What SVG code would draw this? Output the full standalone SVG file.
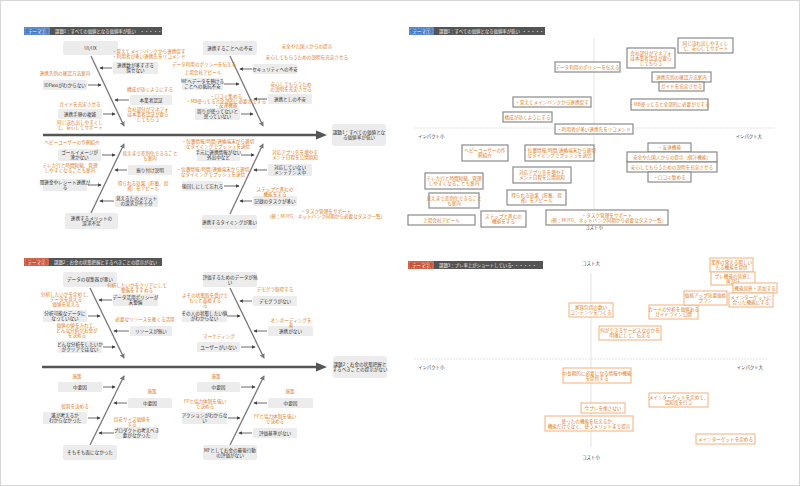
<svg xmlns="http://www.w3.org/2000/svg" width="800" height="486" viewBox="0 0 800 486">
<defs>
<style>
text{font-family:"Noto Sans CJK JP","Noto Sans",sans-serif;font-size:4.6px}
.d{fill:#333;text-anchor:middle}
.o{fill:#e07b22;text-anchor:middle}
.ol{fill:#e07b22}
.gb{fill:#ececec}
.mb{fill:#fff;stroke:#8a8a8a;stroke-width:1.2}
.ob{fill:#fff;stroke:#f2b07a;stroke-width:1}
.mt{fill:#e07b22;text-anchor:middle}
.bone{stroke:#777;stroke-width:1.3;fill:none;marker-end:url(#bh)}
.ar{stroke:#444;stroke-width:0.8;fill:none;marker-end:url(#ah)}
.spine{stroke:#555;stroke-width:2.6}
.ax{stroke:#dcdcdc;stroke-width:0.8}
.axl{fill:#333;font-size:4.4px}
.bar{fill:#545454}
.bt{fill:#eee;font-size:4.4px}
.tg{fill:#fff;font-size:4.4px;text-anchor:middle}
.tb{fill:none;stroke:#fff;stroke-width:0.4;stroke-dasharray:0.8 0.8}
</style>
<marker id="ah" viewBox="0 0 6 6" refX="5" refY="3" markerWidth="4" markerHeight="4" markerUnits="userSpaceOnUse" orient="auto"><path d="M0,0L6,3L0,6z" fill="#444"/></marker>
<marker id="bh" viewBox="0 0 6 6" refX="5" refY="3" markerWidth="5" markerHeight="5" markerUnits="userSpaceOnUse" orient="auto"><path d="M0,0L6,3L0,6z" fill="#777"/></marker>
</defs>
<rect x="0.5" y="0.5" width="799" height="485" fill="#fff" stroke="#d6d6d6"/>

<!-- ================= PANEL 1 ================= -->
<g id="p1-header">
<rect x="24" y="27" width="26" height="8" fill="#4a7ec4"/><rect x="25" y="28" width="24" height="6" class="tb"/>
<text x="37" y="32.6" class="tg">テーマ①</text>
<rect x="50" y="27" width="112" height="8" class="bar"/>
<text x="55" y="32.6" class="bt">課題1：すべての価値となる価値率が低い</text>
<text x="140" y="32.6" class="bt">・・・・・・</text>
</g>
<g id="p1-connectors">
<line x1="43" y1="135" x2="318" y2="135" class="spine"/>
<polygon points="316,130.5 327,135 316,139.5" fill="#555"/>
<line x1="91" y1="56" x2="124" y2="126" class="bone"/>
<line x1="91" y1="213" x2="124" y2="144" class="bone"/>
<line x1="230" y1="56" x2="263" y2="126" class="bone"/>
<line x1="230" y1="214" x2="263" y2="144" class="bone"/>
<line x1="112" y1="68" x2="100" y2="68" class="ar"/>
<line x1="88" y1="85" x2="101" y2="85" class="ar"/>
<line x1="129" y1="100" x2="115" y2="100" class="ar"/>
<line x1="103" y1="114" x2="115" y2="114" class="ar"/>
<line x1="252" y1="69" x2="240" y2="69" class="ar"/>
<line x1="224" y1="84" x2="239" y2="84" class="ar"/>
<line x1="267" y1="99" x2="254" y2="99" class="ar"/>
<line x1="241" y1="114" x2="253" y2="114" class="ar"/>
<line x1="102" y1="155" x2="115" y2="155" class="ar"/>
<line x1="127" y1="170" x2="115" y2="170" class="ar"/>
<line x1="88" y1="185" x2="101" y2="185" class="ar"/>
<line x1="114" y1="201" x2="100" y2="201" class="ar"/>
<line x1="241" y1="155" x2="254" y2="155" class="ar"/>
<line x1="267" y1="170" x2="254" y2="170" class="ar"/>
<line x1="224" y1="186" x2="239" y2="186" class="ar"/>
<line x1="252" y1="201" x2="240" y2="201" class="ar"/>
</g>
<g id="p1-effect"><rect x="332" y="124" width="54" height="22" rx="3" class="gb"/><text class="d"><tspan x="359" y="134">課題1：すべての価値とな</tspan><tspan x="359" y="139.2">る価値率が低い</tspan></text></g>
<g id="p1-uiux"><rect x="63" y="41" width="55" height="14" rx="2" class="gb"/><text x="90.5" y="49.6" class="d">UI/UX</text></g>
<g id="p1-anxiety"><rect x="203" y="41" width="54" height="14" rx="2" class="gb"/><text x="230" y="49.6" class="d">連携することへの不安</text></g>
<g id="p1-merit"><rect x="65" y="213" width="53" height="16" rx="2" class="gb"/><text class="d"><tspan x="91.5" y="220">連携するメリットの</tspan><tspan x="91.5" y="225.2">訴求不足</tspan></text></g>
<g id="p1-timing"><rect x="202" y="215" width="55" height="14" rx="2" class="gb"/><text x="229.5" y="223.6" class="d">連携するタイミングが悪い</text></g>
<g id="p1-c1"><rect x="113" y="62" width="45" height="12" rx="1.5" class="gb"/><text class="d"><tspan x="135.5" y="67">連携数が多すぎる</tspan><tspan x="135.5" y="72">探せない</tspan></text></g>
<g id="p1-c2"><rect x="43" y="80" width="44" height="10" rx="1.5" class="gb"/><text x="65" y="86.6" class="d">IDPassがわからない</text></g>
<g id="p1-c3"><rect x="130" y="95" width="42" height="10" rx="1.5" class="gb"/><text x="151" y="101.6" class="d">本業者認証</text></g>
<g id="p1-c4"><rect x="58" y="109" width="44" height="10" rx="1.5" class="gb"/><text x="80" y="115.6" class="d">連携手順の複雑</text></g>
<g id="p1-c5"><rect x="253" y="64" width="44" height="10" rx="1.5" class="gb"/><text x="275" y="70.6" class="d">セキュリティへの不安</text></g>
<g id="p1-c6"><rect x="182" y="78" width="41" height="12" rx="1.5" class="gb"/><text class="d"><tspan x="202.5" y="83">MFへデータを預ける</tspan><tspan x="202.5" y="88">ことへの抵抗不安</tspan></text></g>
<g id="p1-c7"><rect x="268" y="94" width="44" height="10" rx="1.5" class="gb"/><text x="290" y="100.6" class="d">連携としの不安</text></g>
<g id="p1-c8"><rect x="195" y="108" width="45" height="12" rx="1.5" class="gb"/><text class="d"><tspan x="217.5" y="113">周りが使ってないと</tspan><tspan x="217.5" y="118">思っていない</tspan></text></g>
<g id="p1-c9"><rect x="58" y="149" width="43" height="12" rx="1.5" class="gb"/><text class="d"><tspan x="79.5" y="154">ゴールイメージが</tspan><tspan x="79.5" y="159">湧かない</tspan></text></g>
<g id="p1-c10"><rect x="128" y="165" width="44" height="10" rx="1.5" class="gb"/><text x="150" y="171.6" class="d">振り付け説明</text></g>
<g id="p1-c11"><rect x="43" y="179" width="44" height="12" rx="1.5" class="gb"/><text class="d"><tspan x="65" y="184">関連金やレシート連携が</tspan><tspan x="65" y="189">る</tspan></text></g>
<g id="p1-c12"><rect x="115" y="195" width="43" height="12" rx="1.5" class="gb"/><text class="d"><tspan x="136.5" y="200">見えるたのメリット</tspan><tspan x="136.5" y="205">の訴求が不十分</tspan></text></g>
<g id="p1-c13"><rect x="197" y="149" width="43" height="12" rx="1.5" class="gb"/><text class="d"><tspan x="218.5" y="154">手元に連携情報がない</tspan><tspan x="218.5" y="159">外出中など</tspan></text></g>
<g id="p1-c14"><rect x="268" y="164" width="44" height="12" rx="1.5" class="gb"/><text class="d"><tspan x="290" y="169">対応していない</tspan><tspan x="290" y="174">メンテナンス中</tspan></text></g>
<g id="p1-c15"><rect x="182" y="181" width="41" height="10" rx="1.5" class="gb"/><text x="202.5" y="187.6" class="d">後回しにして忘れる</text></g>
<g id="p1-c16"><rect x="253" y="196" width="44" height="10" rx="1.5" class="gb"/><text x="275" y="202.6" class="d">記録のタスクが多い</text></g>
<g id="p1-notes">
<text class="ol"><tspan x="112" y="53">・覚えてメインバンクから連携促す</tspan><tspan x="112" y="58">・利用者が多い連携先をリコメンド</tspan></text>
<text x="65" y="74.5" class="o">連携先別の確認方法案内</text>
<text x="150" y="90.5" class="o">構成が効くようにする</text>
<text x="80" y="105.5" class="o">ガイドを充実させる</text>
<text class="o"><tspan x="148" y="111">会社部分がマネフォ</tspan><tspan x="148" y="116">は本業者認証が要ら</tspan><tspan x="148" y="121">してもらう</tspan></text>
<text class="o"><tspan x="80" y="123.5">同じ流れ出しやすくし</tspan><tspan x="80" y="128.5">て、安心してサポート</tspan></text>
<text x="204" y="66" class="o">データ利用のポリシーを伝える</text>
<text x="203" y="74" class="o">上場会社アピール</text>
<text class="o"><tspan x="226" y="98">・口コミ集める</tspan><tspan x="226" y="102.5">・MB使ってると全部的に必要がでする</tspan><tspan x="226" y="107">・友達機能</tspan></text>
<text x="307" y="48" class="o">安全やた国人からの提示</text>
<text x="307" y="59" class="o">安心してもらうための説明を充実させる</text>
<text class="o"><tspan x="291" y="86">安心してもらうため</tspan><tspan x="291" y="91">の説明を充実させる</tspan></text>
<text x="72" y="143.5" class="o">ヘビーユーザーの作例紹介</text>
<text class="o"><tspan x="150" y="155">見えまで差別化できること</tspan><tspan x="150" y="160">も案内</tspan></text>
<text class="o"><tspan x="70" y="167">テレカ行と時間短縮、管理</tspan><tspan x="70" y="172">しやすくなることも案内</tspan></text>
<text class="o"><tspan x="143" y="185">得られる効果（貯蓄、投</tspan><tspan x="143" y="190">資）をアピール</tspan></text>
<text class="o"><tspan x="218" y="142.5">・位置情報/時間/連絡端末から適切</tspan><tspan x="218" y="147.5">なタイミングでプッシュを送信</tspan></text>
<text class="o"><tspan x="295" y="154">対応アプリ先を増やす</tspan><tspan x="295" y="159">メンテ日程を公開周知</tspan></text>
<text class="o"><tspan x="213" y="171">・位置情報/時間/連絡端末から適切</tspan><tspan x="213" y="176">なタイミングでプッシュを送信</tspan></text>
<text class="o"><tspan x="275" y="191">ステップと進むの</tspan><tspan x="275" y="196">機能をする</tspan></text>
<text class="o"><tspan x="326" y="213">・タスク管理をサポート</tspan><tspan x="326" y="218">（例：MUFG、ネットバンク同期から必要なタスク一覧）</tspan></text>
</g>

<!-- ================= PANEL 2 ================= -->
<g id="p2-header">
<rect x="409" y="27" width="25" height="8" fill="#4a7ec4"/><rect x="410" y="28" width="23" height="6" class="tb"/>
<text x="421.5" y="32.6" class="tg">テーマ①</text>
<rect x="434" y="27" width="111" height="8" class="bar"/>
<text x="439" y="32.6" class="bt">課題1：すべての価値となる価値率が低い</text>
<text x="522" y="32.6" class="bt">・・・・・・</text>
</g>
<g id="p2-axes">
<line x1="594" y1="38" x2="594" y2="224" class="ax"/>
<line x1="414" y1="128" x2="775" y2="128" class="ax" stroke-dasharray="2 1"/>
<text x="418" y="138" class="axl">インパクト小</text>
<text x="762" y="138" class="axl" text-anchor="end">インパクト大</text>
<text x="594" y="229" class="axl" text-anchor="middle">コスト小</text>
</g>
<g id="p2-n1"><rect x="555" y="62" width="65" height="10" class="mb"/><text x="587.5" y="68.6" class="mt">データ利用のポリシーを伝える</text></g>
<g id="p2-n2"><rect x="513" y="97" width="78" height="10" class="mb"/><text x="552" y="103.6" class="mt">・覚えてメインバンクから連携促す</text></g>
<g id="p2-n3"><rect x="503" y="112" width="49" height="10" class="mb"/><text x="527.5" y="118.6" class="mt">構成が効くようにする</text></g>
<g id="p2-n4"><rect x="555" y="124" width="78" height="10" class="mb"/><text x="594" y="130.6" class="mt">・利用者が多い連携先をリコメンド</text></g>
<g id="p2-n5"><rect x="462" y="145" width="46" height="16" class="mb"/><text class="mt"><tspan x="485" y="152">ヘビーユーザーの作</tspan><tspan x="485" y="157">例紹介</tspan></text></g>
<g id="p2-n6"><rect x="525" y="145" width="69" height="16" class="mb"/><text class="mt"><tspan x="559.5" y="152">・位置情報/時間/連絡端末から適切</tspan><tspan x="559.5" y="157">なタイミングでプッシュを送信</tspan></text></g>
<g id="p2-n7"><rect x="513" y="167" width="58" height="16" class="mb"/><text class="mt"><tspan x="542" y="174">対応アプリ先を増やす</tspan><tspan x="542" y="179">メンテ日程を公開周知</tspan></text></g>
<g id="p2-n8"><rect x="425" y="173" width="58" height="16" class="mb"/><text class="mt"><tspan x="454" y="180">テレカ行と時間短縮、管理</tspan><tspan x="454" y="185">しやすくなることも案内</tspan></text></g>
<g id="p2-n9"><rect x="429" y="193" width="50" height="15" class="mb"/><text class="mt"><tspan x="454" y="199.5">見えまで差別化できること</tspan><tspan x="454" y="204.5">も案内</tspan></text></g>
<g id="p2-n10"><rect x="507" y="190" width="59" height="15" class="mb"/><text class="mt"><tspan x="536.5" y="196.5">得られる効果（貯蓄、投</tspan><tspan x="536.5" y="201.5">資）をアピール</tspan></text></g>
<g id="p2-n11"><rect x="408" y="215" width="67" height="10" class="mb"/><text x="441.5" y="221.6" class="mt">上場会社アピール</text></g>
<g id="p2-n12"><rect x="481" y="211" width="45" height="16" class="mb"/><text class="mt"><tspan x="503.5" y="218">ステップと進むの</tspan><tspan x="503.5" y="223">機能をする</tspan></text></g>
<g id="p2-n13"><rect x="546" y="210" width="122" height="15" class="mb"/><text class="mt"><tspan x="607" y="216.5">・タスク管理をサポート</tspan><tspan x="607" y="221.5">（例：MUFG、ネットバンク同期から必要なタスク一覧）</tspan></text></g>
<g id="p2-n14"><rect x="678" y="38" width="55" height="15" class="mb"/><text class="mt"><tspan x="705.5" y="44.5">同じ流れ出しやすくし</tspan><tspan x="705.5" y="49.5">て、安心してサポート</tspan></text></g>
<g id="p2-n15"><rect x="627" y="48" width="48" height="20" class="mb"/><text class="mt"><tspan x="651" y="54.5">会社部分がマネフォ</tspan><tspan x="651" y="59.5">は本業者認証が要ら</tspan><tspan x="651" y="64.5">してもらう</tspan></text></g>
<g id="p2-n16"><rect x="652" y="72" width="59" height="10" class="mb"/><text x="681.5" y="78.6" class="mt">連携先別の確認方法案内</text></g>
<g id="p2-n17"><rect x="659" y="82" width="45" height="9" class="mb"/><text x="681.5" y="88.1" class="mt">ガイドを充実させる</text></g>
<g id="p2-n18"><rect x="631" y="99" width="77" height="11" class="mb"/><text x="669.5" y="106.1" class="mt">・MB使ってると全部的に必要がでする</text></g>
<g id="p2-n19"><rect x="648" y="143" width="43" height="9" class="mb"/><text x="669.5" y="149.1" class="mt">・友達機能</text></g>
<g id="p2-n20"><rect x="627" y="152" width="90" height="10" class="mb"/><text x="672" y="158.6" class="mt">安全やた国人からの提示（個汁機能）</text></g>
<g id="p2-n21"><rect x="627" y="162" width="90" height="10" class="mb"/><text x="672" y="168.6" class="mt">安心してもらうための説明を充実させる</text></g>
<g id="p2-n22"><rect x="648" y="172" width="43" height="10" class="mb"/><text x="669.5" y="178.6" class="mt">・口コミ集める</text></g>

<!-- ================= PANEL 3 ================= -->
<g id="p3-header">
<rect x="24" y="258" width="25" height="8" fill="#c9553a"/><rect x="25" y="259" width="23" height="6" class="tb"/>
<text x="36.5" y="263.6" class="tg">テーマ②</text>
<rect x="49" y="258" width="113" height="8" class="bar"/>
<text x="54" y="263.6" class="bt">課題2：お金の状態把握とするべきことの提示がない</text>
</g>
<g id="p3-connectors">
<line x1="42" y1="367" x2="318" y2="367" class="spine"/>
<polygon points="316,362.5 327,367 316,371.5" fill="#555"/>
<line x1="90" y1="288" x2="124" y2="358" class="bone"/>
<line x1="90" y1="445" x2="124" y2="376" class="bone"/>
<line x1="230" y1="288" x2="264" y2="358" class="bone"/>
<line x1="230" y1="445" x2="264" y2="376" class="bone"/>
<line x1="112" y1="300" x2="99" y2="300" class="ar"/>
<line x1="88" y1="316" x2="100" y2="316" class="ar"/>
<line x1="129" y1="331" x2="114" y2="331" class="ar"/>
<line x1="103" y1="347" x2="115" y2="347" class="ar"/>
<line x1="252" y1="301" x2="240" y2="301" class="ar"/>
<line x1="227" y1="316" x2="240" y2="316" class="ar"/>
<line x1="267" y1="331" x2="254" y2="331" class="ar"/>
<line x1="241" y1="347" x2="255" y2="347" class="ar"/>
<line x1="103" y1="387" x2="115" y2="387" class="ar"/>
<line x1="127" y1="403" x2="114" y2="403" class="ar"/>
<line x1="88" y1="418" x2="100" y2="418" class="ar"/>
<line x1="114" y1="433" x2="99" y2="433" class="ar"/>
<line x1="241" y1="387" x2="255" y2="387" class="ar"/>
<line x1="267" y1="403" x2="254" y2="403" class="ar"/>
<line x1="228" y1="418" x2="240" y2="418" class="ar"/>
<line x1="252" y1="433" x2="239" y2="433" class="ar"/>
</g>
<g id="p3-effect"><rect x="333" y="356" width="54" height="22" rx="3" class="gb"/><text class="d"><tspan x="360" y="366">課題2：お金の状態把握と</tspan><tspan x="360" y="371.2">するべきことの提示がない</tspan></text></g>
<g id="p3-k1"><rect x="63" y="272" width="54" height="15" rx="2" class="gb"/><text x="90" y="281.1" class="d">データの収集器が悪い</text></g>
<g id="p3-k2"><rect x="203" y="272" width="54" height="15" rx="2" class="gb"/><text class="d"><tspan x="230" y="278.5">評価するためのデータが無</tspan><tspan x="230" y="283.5">い</tspan></text></g>
<g id="p3-k3"><rect x="63" y="445" width="54" height="15" rx="2" class="gb"/><text x="90" y="454.1" class="d">そもそも面になかった</text></g>
<g id="p3-k4"><rect x="203" y="445" width="54" height="15" rx="2" class="gb"/><text class="d"><tspan x="230" y="451.5">MFとしてお金の最後行動</tspan><tspan x="230" y="456.5">の評価がない</tspan></text></g>
<g id="p3-c1"><rect x="113" y="294" width="45" height="12" rx="1.5" class="gb"/><text class="d"><tspan x="135.5" y="299">データ活用ポリシーが</tspan><tspan x="135.5" y="304">未整備</tspan></text></g>
<g id="p3-c2"><rect x="43" y="310" width="44" height="12" rx="1.5" class="gb"/><text class="d"><tspan x="65" y="315">分析可能なデータに</tspan><tspan x="65" y="320">なっていない</tspan></text></g>
<g id="p3-c3"><rect x="130" y="326" width="42" height="10" rx="1.5" class="gb"/><text x="151" y="332.6" class="d">リソースが無い</text></g>
<g id="p3-c4"><rect x="58" y="341" width="44" height="12" rx="1.5" class="gb"/><text class="d"><tspan x="80" y="346">どんな分析をしたいか</tspan><tspan x="80" y="351">がクリアではない</tspan></text></g>
<g id="p3-c5"><rect x="253" y="296" width="44" height="10" rx="1.5" class="gb"/><text x="275" y="302.6" class="d">デモグラがない</text></g>
<g id="p3-c6"><rect x="182" y="310" width="45" height="12" rx="1.5" class="gb"/><text class="d"><tspan x="204.5" y="315">その人の状態したい値</tspan><tspan x="204.5" y="320">がわからない</tspan></text></g>
<g id="p3-c7"><rect x="268" y="326" width="45" height="10" rx="1.5" class="gb"/><text x="290.5" y="332.6" class="d">連携がない</text></g>
<g id="p3-c8"><rect x="197" y="342" width="43" height="10" rx="1.5" class="gb"/><text x="218.5" y="348.6" class="d">ユーザーがいない</text></g>
<g id="p3-c9"><rect x="58" y="382" width="44" height="10" rx="1.5" class="gb"/><text x="80" y="388.6" class="d">中要因</text></g>
<g id="p3-c10"><rect x="128" y="398" width="44" height="10" rx="1.5" class="gb"/><text x="150" y="404.6" class="d">中要因</text></g>
<g id="p3-c11"><rect x="43" y="412" width="44" height="12" rx="1.5" class="gb"/><text class="d"><tspan x="65" y="417">誰が考えるか</tspan><tspan x="65" y="422">わからなかった</tspan></text></g>
<g id="p3-c12"><rect x="115" y="427" width="43" height="12" rx="1.5" class="gb"/><text class="d"><tspan x="136.5" y="432">プロダクトの考えべき</tspan><tspan x="136.5" y="437">要がなかった</tspan></text></g>
<g id="p3-c13"><rect x="197" y="382" width="43" height="10" rx="1.5" class="gb"/><text x="218.5" y="388.6" class="d">中要因</text></g>
<g id="p3-c14"><rect x="268" y="398" width="45" height="10" rx="1.5" class="gb"/><text x="290.5" y="404.6" class="d">中要因</text></g>
<g id="p3-c15"><rect x="182" y="412" width="45" height="12" rx="1.5" class="gb"/><text class="d"><tspan x="204.5" y="417">アクションがわからな</tspan><tspan x="204.5" y="422">い</tspan></text></g>
<g id="p3-c16"><rect x="253" y="428" width="44" height="10" rx="1.5" class="gb"/><text x="275" y="434.6" class="d">評価基準がない</text></g>
<g id="p3-notes">
<text class="o"><tspan x="137" y="287">何析したいかをクリアにして</tspan><tspan x="137" y="292">整備をすすめる</tspan></text>
<text class="o"><tspan x="66" y="296">分析したいかを定めて、</tspan><tspan x="66" y="301">データを見える</tspan><tspan x="66" y="306">価値を見える</tspan></text>
<text x="145" y="321" class="o">必要なリソースを確くる活用</text>
<text class="o"><tspan x="77" y="327">価値の値をみれて、</tspan><tspan x="77" y="332">どんな分析がお金が</tspan><tspan x="77" y="337">を決める</tspan></text>
<text x="275" y="290.5" class="o">デモグラ取得する</text>
<text class="o"><tspan x="205" y="297">よその状態取を受けで</tspan><tspan x="205" y="302">もっと面接する</tspan><tspan x="205" y="307">る</tspan></text>
<text class="o"><tspan x="291" y="322">オンボーディングを</tspan><tspan x="291" y="327">善</tspan></text>
<text x="219" y="337.5" class="o">マーケティング</text>
<text x="77" y="378" class="o">施策</text>
<text x="152" y="393" class="o">施策</text>
<text x="75" y="408" class="o">役割を決める</text>
<text class="o"><tspan x="132" y="421">目安サイズ価値を</tspan><tspan x="132" y="426">する</tspan></text>
<text x="216" y="378" class="o">施策</text>
<text x="290" y="393" class="o">施策</text>
<text class="o"><tspan x="205" y="403">FPと協力体制を強い</tspan><tspan x="205" y="408">で決める</tspan></text>
<text class="o"><tspan x="275" y="418">FPと協力体制を強い</tspan><tspan x="275" y="423">で決める</tspan></text>
</g>

<!-- ================= PANEL 4 ================= -->
<g id="p4-header">
<rect x="408" y="261" width="26" height="8" fill="#c9553a"/><rect x="409" y="262" width="24" height="6" class="tb"/>
<text x="421" y="266.6" class="tg">テーマ②</text>
<rect x="434" y="261" width="109" height="8" class="bar"/>
<text x="439" y="266.6" class="bt">課題3：プレ率上がショートしている</text>
<text x="510" y="266.6" class="bt">・・・・・・</text>
</g>
<g id="p4-axes">
<line x1="591" y1="273" x2="591" y2="447" class="ax"/>
<line x1="414" y1="359" x2="768" y2="359" class="ax" stroke-dasharray="2 1"/>
<text x="591" y="265" class="axl" text-anchor="middle">コスト大</text>
<text x="591" y="459" class="axl" text-anchor="middle">コスト小</text>
<text x="418" y="369" class="axl">インパクト小</text>
<text x="763" y="369" class="axl" text-anchor="end">インパクト大</text>
</g>
<g id="p4-n1"><rect x="569" y="303" width="44" height="14" class="ob"/><text class="mt"><tspan x="591" y="309">家族包括の数い</tspan><tspan x="591" y="314">コンテンツをつくる</tspan></text></g>
<g id="p4-n2"><rect x="599" y="326" width="62" height="14" class="ob"/><text class="mt"><tspan x="630" y="332">何ができるサービスなのかを</tspan><tspan x="630" y="337">明確にして、伝える</tspan></text></g>
<g id="p4-n3"><rect x="649" y="305" width="49" height="14" class="ob"/><text class="mt"><tspan x="673.5" y="311">カードの分析を価値ある</tspan><tspan x="673.5" y="316">ガイドライン公開</tspan></text></g>
<g id="p4-n4"><rect x="684" y="291" width="43" height="14" class="ob"/><text class="mt"><tspan x="705.5" y="297">価格アップ効果価格</tspan><tspan x="705.5" y="302">プラン</tspan></text></g>
<g id="p4-n5"><rect x="710" y="258" width="43" height="14" class="ob"/><text class="mt"><tspan x="731.5" y="264">業界の発える期しい</tspan><tspan x="731.5" y="269">たる機能を提供</tspan></text></g>
<g id="p4-n6"><rect x="711" y="272" width="44" height="13" class="ob"/><text class="mt"><tspan x="733" y="277.5">プレ機能の見直し</tspan><tspan x="733" y="282.5">再設計</tspan></text></g>
<g id="p4-n7"><rect x="733" y="283" width="44" height="10" class="ob"/><text x="755" y="289.6" class="mt">機能見直・追加する</text></g>
<g id="p4-n8"><rect x="729" y="293" width="44" height="14" class="ob"/><text class="mt"><tspan x="751" y="299">メインターゲットに</tspan><tspan x="751" y="304">合った機能にする</tspan></text></g>
<g id="p4-n9"><rect x="563" y="368" width="68" height="15" class="ob"/><text class="mt"><tspan x="597" y="374.5">中長期的に必要になる情報や機能</tspan><tspan x="597" y="379.5">を提供する</tspan></text></g>
<g id="p4-n10"><rect x="649" y="393" width="59" height="14" class="ob"/><text class="mt"><tspan x="678.5" y="399">メインターゲットを定めて、</tspan><tspan x="678.5" y="404">認知度を行う</tspan></text></g>
<g id="p4-n11"><rect x="581" y="403" width="44" height="10" class="ob"/><text x="603" y="409.6" class="mt">今プレを推さない</text></g>
<g id="p4-n12"><rect x="545" y="416" width="88" height="15" class="ob"/><text class="mt"><tspan x="589" y="422.5">使ったの機能を伝えるか、</tspan><tspan x="589" y="427.5">機能だけでなく、使うメリットまで提示</tspan></text></g>
<g id="p4-n13"><rect x="696" y="434" width="59" height="10" class="ob"/><text x="725.5" y="440.6" class="mt">メインターゲットを定める</text></g>
</svg>
